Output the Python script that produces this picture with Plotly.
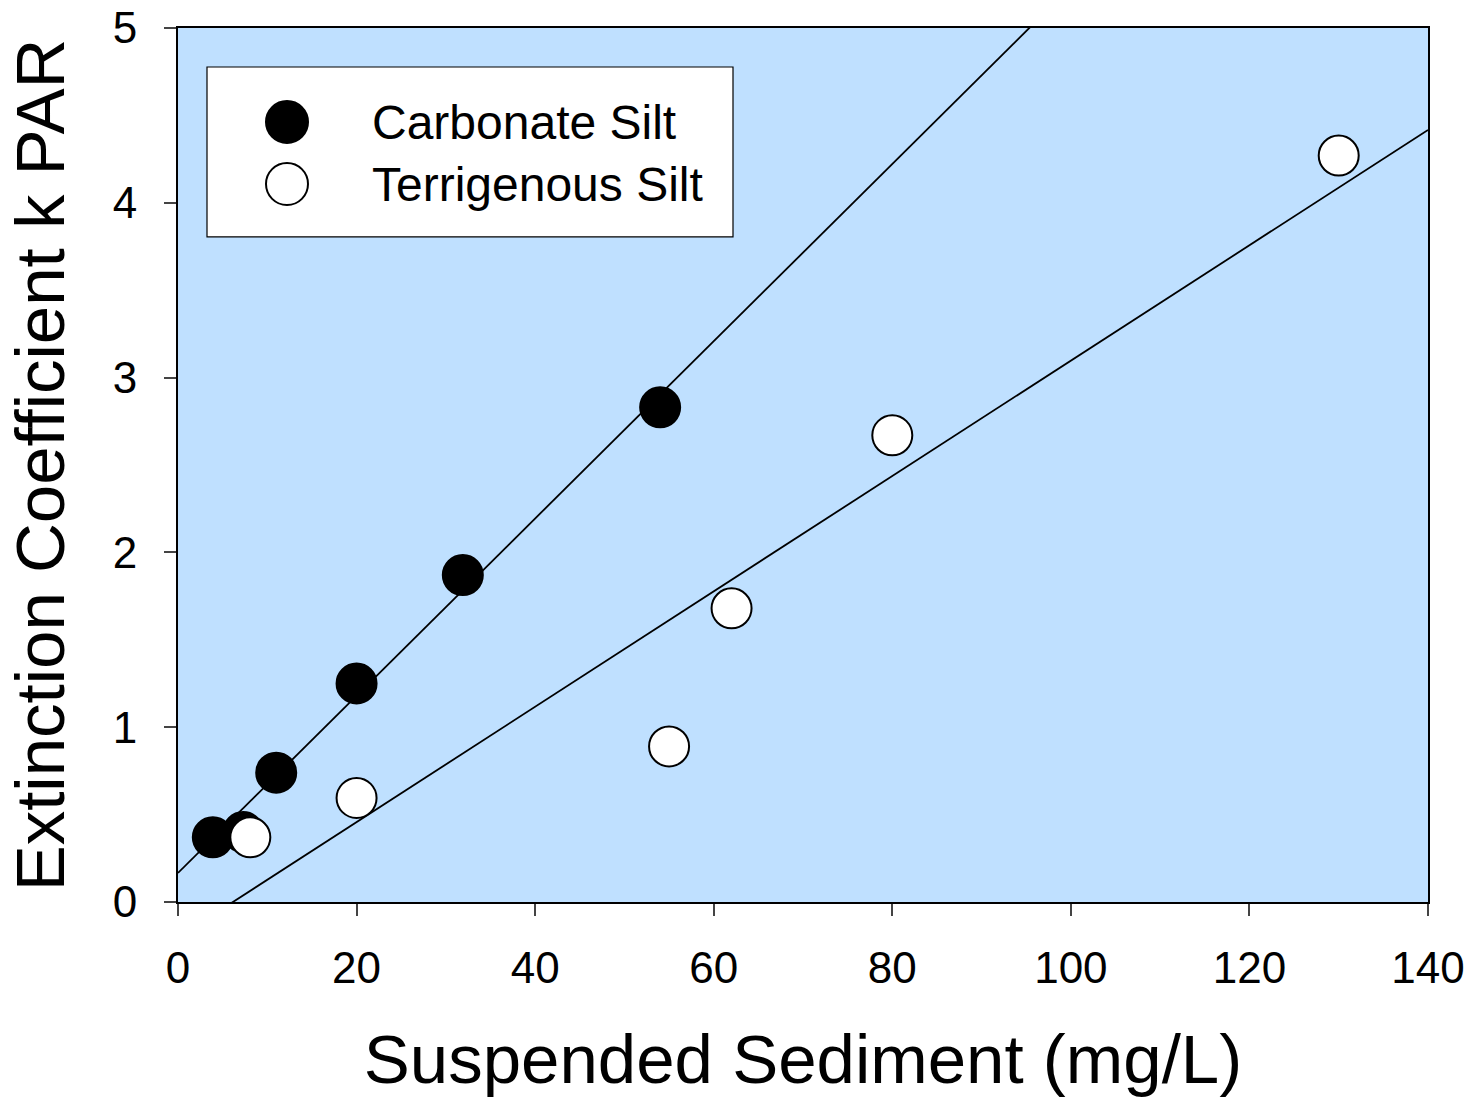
import plotly.graph_objects as go

# ---- data ----
carb_x = [3.9, 7.3, 11, 20, 31.9, 54]
carb_y = [0.37, 0.40, 0.74, 1.25, 1.87, 2.83]
terr_x = [8.1, 20, 55, 62, 80, 130]
terr_y = [0.37, 0.595, 0.89, 1.68, 2.67, 4.27]

# fitted regression lines (slope, intercept)
carb_fit = (0.0507, 0.166)
terr_fit = (0.0330, -0.203)
line_x = [0, 140]

x_ticks = [0, 20, 40, 60, 80, 100, 120, 140]
y_ticks = [0, 1, 2, 3, 4, 5]

FONT = "Liberation Sans, Arial, sans-serif"
BG = "#BFE0FF"

fig = go.Figure()

for (m, b) in (carb_fit, terr_fit):
    fig.add_trace(go.Scatter(
        x=line_x, y=[m * v + b for v in line_x], mode="lines",
        line=dict(color="black", width=1.8), showlegend=False, hoverinfo="skip"))

fig.add_trace(go.Scatter(
    x=carb_x, y=carb_y, mode="markers", name="Carbonate Silt",
    marker=dict(size=40, color="black", line=dict(color="black", width=2)),
    showlegend=False))
fig.add_trace(go.Scatter(
    x=terr_x, y=terr_y, mode="markers", name="Terrigenous Silt",
    marker=dict(size=40, color="white", line=dict(color="black", width=2)),
    showlegend=False))

# custom legend
shapes = [dict(type="rect", xref="paper", yref="paper", x0=0.0232, x1=0.444,
               y0=0.7609, y1=0.9554, line=dict(color="black", width=1.2),
               fillcolor="white", layer="above")]
legend_items = [("Carbonate Silt", "black", 0.8924), ("Terrigenous Silt", "white", 0.8215)]
annotations = []
for label, col, yy in legend_items:
    shapes.append(dict(type="circle", xref="paper", yref="paper",
                       xsizemode="pixel", ysizemode="pixel",
                       xanchor=0.0872, yanchor=yy, x0=-21, x1=21, y0=-21, y1=21,
                       fillcolor=col, line=dict(color="black", width=2), layer="above"))
    annotations.append(dict(xref="paper", yref="paper", x=0.1536, y=yy, text=label,
                            showarrow=False, xanchor="left", yanchor="middle",
                            font=dict(size=48, color="black", family=FONT)))

fig.update_layout(
    width=1476, height=1105,
    margin=dict(l=178, r=48, t=28, b=203),
    paper_bgcolor="white", plot_bgcolor=BG,
    font=dict(family=FONT, color="black"),
    shapes=shapes, annotations=annotations,
    showlegend=False,
)
fig.update_xaxes(
    range=[0, 140], tickvals=x_ticks, ticks="outside", ticklen=12, tickwidth=2,
    showline=True, linewidth=2, linecolor="black", mirror=True, showgrid=False,
    zeroline=False, tickfont=dict(size=44), ticklabelstandoff=14, automargin=False,
    title=dict(text="Suspended Sediment (mg/L)", font=dict(size=69), standoff=44))
fig.update_yaxes(
    range=[0, 5], tickvals=y_ticks, ticks="outside", ticklen=12, tickwidth=2,
    showline=True, linewidth=2, linecolor="black", mirror=True, showgrid=False,
    zeroline=False, tickfont=dict(size=44), ticklabelstandoff=18, automargin=False,
    title=dict(text="Extinction Coefficient k PAR", font=dict(size=69), standoff=26))

fig.write_html("out.html")
